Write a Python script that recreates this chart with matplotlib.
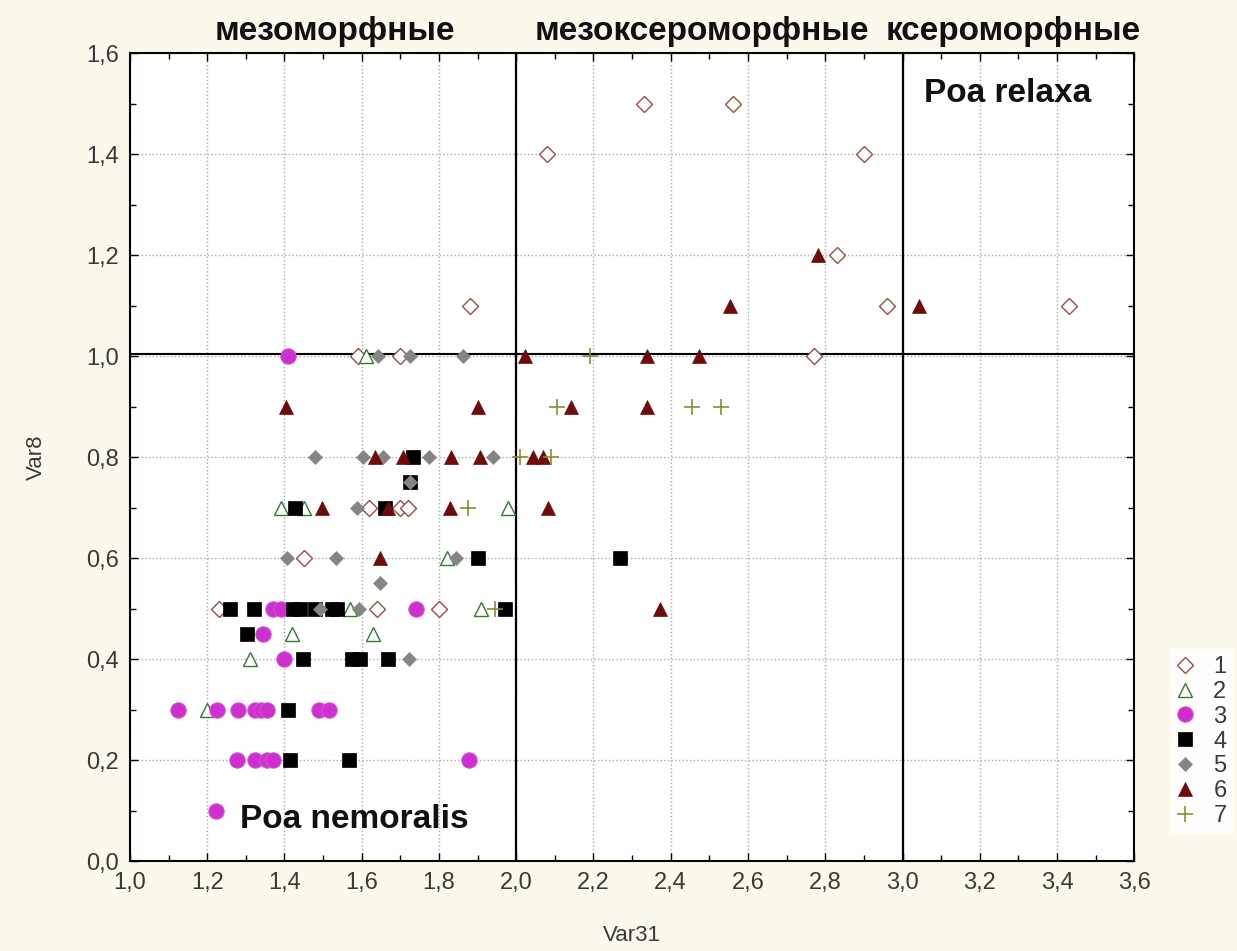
import matplotlib
matplotlib.use("Agg")
import matplotlib.pyplot as plt
from matplotlib.ticker import MultipleLocator, FuncFormatter

plt.rcParams['font.family'] = ['Liberation Sans', 'DejaVu Sans']

# --- data (Var31, Var8) for each group ---
g1_x = [2.33, 2.56, 2.08, 2.90, 2.83, 1.88, 2.96, 3.43, 1.59, 1.70, 2.77,
        1.62, 1.70, 1.72, 1.45, 1.23, 1.64, 1.80]
g1_y = [1.5, 1.5, 1.4, 1.4, 1.2, 1.1, 1.1, 1.1, 1.0, 1.0, 1.0,
        0.7, 0.7, 0.7, 0.6, 0.5, 0.5, 0.5]

g2_x = [1.61, 1.39, 1.45, 1.98, 1.82, 1.57, 1.91, 1.42, 1.63, 1.31, 1.20]
g2_y = [1.0, 0.7, 0.7, 0.7, 0.6, 0.5, 0.5, 0.45, 0.45, 0.4, 0.3]

g3_x = [1.41, 1.37, 1.39, 1.74, 1.345, 1.40, 1.125, 1.226, 1.28, 1.325,
        1.34, 1.355, 1.49, 1.515, 1.276, 1.325, 1.355, 1.37, 1.877, 1.223]
g3_y = [1.0, 0.5, 0.5, 0.5, 0.45, 0.4, 0.3, 0.3, 0.3, 0.3,
        0.3, 0.3, 0.3, 0.3, 0.2, 0.2, 0.2, 0.2, 0.2, 0.1]

g4_x = [1.734, 1.724, 1.427, 1.661, 1.902, 2.269, 1.259, 1.32, 1.423, 1.44,
        1.479, 1.522, 1.535, 1.971, 1.302, 1.449, 1.574, 1.596, 1.669, 1.408,
        1.415, 1.566]
g4_y = [0.8, 0.75, 0.7, 0.7, 0.6, 0.6, 0.5, 0.5, 0.5, 0.5,
        0.5, 0.5, 0.5, 0.5, 0.45, 0.4, 0.4, 0.4, 0.4, 0.3,
        0.2, 0.2]

g5_x = [1.641, 1.725, 1.863, 1.478, 1.604, 1.656, 1.775, 1.941, 1.724, 1.587,
        1.406, 1.534, 1.845, 1.648, 1.492, 1.592, 1.723]
g5_y = [1.0, 1.0, 1.0, 0.8, 0.8, 0.8, 0.8, 0.8, 0.75, 0.7,
        0.6, 0.6, 0.6, 0.55, 0.5, 0.5, 0.4]

g6_x = [2.78, 2.554, 3.043, 2.022, 2.339, 2.474, 1.404, 1.902, 2.142, 2.339,
        1.635, 1.706, 1.831, 1.907, 2.043, 2.069, 1.497, 1.669, 1.829, 2.082,
        1.648, 2.373]
g6_y = [1.2, 1.1, 1.1, 1.0, 1.0, 1.0, 0.9, 0.9, 0.9, 0.9,
        0.8, 0.8, 0.8, 0.8, 0.8, 0.8, 0.7, 0.7, 0.7, 0.7,
        0.6, 0.5]

g7_x = [2.192, 2.106, 2.454, 2.530, 2.009, 2.09, 1.876, 1.946]
g7_y = [1.0, 0.9, 0.9, 0.9, 0.8, 0.8, 0.7, 0.5]

group_labels = ['1', '2', '3', '4', '5', '6', '7']
zone_labels = ['мезоморфные', 'мезоксероморфные', 'ксероморфные']
zone_bounds = [2.0, 3.0]
mid_line = 1.0

# --- figure ---
fig = plt.figure(figsize=(12.37, 9.51), dpi=100, facecolor='#fcf8ec')
ax = fig.add_axes([0.105, 0.0946, 0.812, 0.8494])
ax.set_facecolor('white')

styles = [
    dict(marker='D', ms=8.5, mfc='white', mec='#9b4a48', mew=1.0),
    dict(marker='^', ms=10, mfc='white', mec='#2f7d2f', mew=1.0),
    dict(marker='o', ms=11, mfc='#cf2fcf', mec='#d050d0', mew=0.8),
    dict(marker='s', ms=10.5, mfc='black', mec='black', mew=0.5),
    dict(marker='D', ms=7.5, mfc='#858585', mec='#858585', mew=0.5),
    dict(marker='^', ms=10.5, mfc='#6e0c0c', mec='#6e0c0c', mew=0.5),
    dict(marker='+', ms=12, mfc='none', mec='#8c8c32', mew=1.2),
]
xs = [g1_x, g2_x, g3_x, g4_x, g5_x, g6_x, g7_x]
ys = [g1_y, g2_y, g3_y, g4_y, g5_y, g6_y, g7_y]

# zone separators
ax.axhline(mid_line + 0.004, color='black', lw=1.5, zorder=2)
for b in zone_bounds:
    ax.axvline(b, color='black', lw=1.6, zorder=2)

handles = []
for x, y, st, lab in zip(xs, ys, styles, group_labels):
    h, = ax.plot(x, y, ls='none', label=lab, zorder=3, **st)
    handles.append(h)

ax.set_xlim(1.0, 3.6)
ax.set_ylim(0.0, 1.6)
ax.xaxis.set_major_locator(MultipleLocator(0.2))
ax.xaxis.set_minor_locator(MultipleLocator(0.1))
ax.yaxis.set_major_locator(MultipleLocator(0.2))
ax.yaxis.set_minor_locator(MultipleLocator(0.1))
comma = FuncFormatter(lambda v, p: f'{v:.1f}'.replace('.', ','))
ax.xaxis.set_major_formatter(comma)
ax.yaxis.set_major_formatter(comma)
ax.tick_params(which='both', direction='in', top=True, right=True,
               labelsize=17, labelcolor='#3a3a3a', width=1)
ax.tick_params(which='major', length=6, pad=8)
ax.tick_params(which='minor', length=4)
ax.grid(True, which='major', ls=':', color='#aaaaaa', lw=1)
for s in ax.spines.values():
    s.set_linewidth(1.5)

ax.set_xlabel('Var31', fontsize=16, color='#3a3a3a', labelpad=22)
ax.set_ylabel('Var8', fontsize=16, color='#3a3a3a', labelpad=28)

# zone titles above the plot
fig.text(0.271, 0.967, zone_labels[0], fontsize=24, fontweight='bold',
         ha='center', va='center', color='#111111')
fig.text(0.432, 0.967, zone_labels[1], fontsize=24, fontweight='bold',
         ha='left', va='center', color='#111111')
fig.text(0.716, 0.967, zone_labels[2], fontsize=24, fontweight='bold',
         ha='left', va='center', color='#111111')

ax.text(3.055, 1.52, 'Poa relaxa', fontsize=24, fontweight='bold',
        ha='left', va='center', color='#111111')
ax.text(1.285, 0.082, 'Poa nemoralis', fontsize=24, fontweight='bold',
        ha='left', va='center', color='#111111')

leg = fig.legend(handles=handles, loc='upper left',
                 bbox_to_anchor=(0.937, 0.33), frameon=True,
                 facecolor='white', edgecolor='none', fancybox=False,
                 fontsize=17, handlelength=0.6, handletextpad=0.9,
                 labelspacing=0.12, borderpad=0.3)
for t in leg.get_texts():
    t.set_color('#3a3a3a')

fig.savefig('out.png', dpi=100, facecolor=fig.get_facecolor())
